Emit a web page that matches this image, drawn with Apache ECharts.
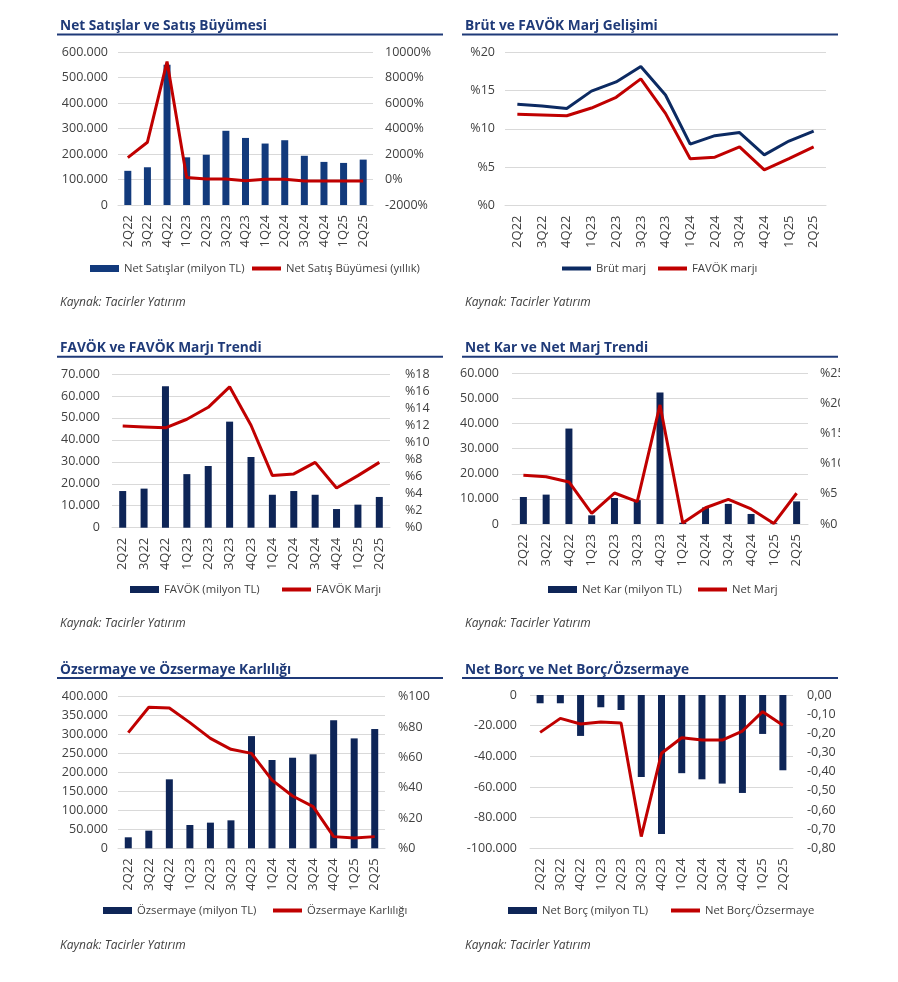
<!DOCTYPE html>
<html>
<head>
<meta charset="utf-8">
<script src="https://cdn.jsdelivr.net/npm/echarts@6/dist/echarts.min.js"></script>
<style>
  body { margin: 0; background: #fff; width: 898px; height: 982px; position: relative; overflow: hidden; }
  .p { position: absolute; }
</style>
</head>
<body>
<div id="c1" class="p" style="left:55px;top:10px;width:390px;height:310px"></div>
<div id="c2" class="p" style="left:460px;top:10px;width:380px;height:310px"></div>
<div id="c3" class="p" style="left:55px;top:335px;width:390px;height:305px"></div>
<div id="c4" class="p" style="left:460px;top:335px;width:380px;height:305px"></div>
<div id="c5" class="p" style="left:55px;top:655px;width:390px;height:305px"></div>
<div id="c6" class="p" style="left:460px;top:655px;width:380px;height:305px"></div>
<script>
// veriler
var quarters = ['2Q22', '3Q22', '4Q22', '1Q23', '2Q23', '3Q23', '4Q23', '1Q24', '2Q24', '3Q24', '4Q24', '1Q25', '2Q25']

var netSatislar = [134000, 148000, 550000, 187000, 197000, 291000, 263000, 241000, 254000, 193000, 169000, 165000, 178000]
var satisBuyumesi = [1720, 2925, 9250, 148, 40, 40, -90, 20, 20, -110, -110, -110, -110]

var brutMarj = [13.2, 12.95, 12.65, 14.9, 16.1, 18.1, 14.4, 8.0, 9.1, 9.5, 6.6, 8.4, 9.7]
var favokMarji = [11.9, 11.8, 11.7, 12.7, 14.1, 16.5, 12.0, 6.1, 6.3, 7.65, 4.65, 6.1, 7.65]

var favok = [16700, 17800, 64400, 24400, 28100, 48300, 32200, 15000, 16700, 15000, 8500, 10500, 14000]

var netKar = [10750, 11700, 38000, 3450, 10350, 9500, 52400, 500, 6600, 8000, 4000, 300, 9000]
var netMarj = [8.1, 7.85, 6.97, 1.77, 5.14, 3.7, 19.75, 0.17, 2.7, 4.1, 2.5, 0.1, 5.1]

var ozsermaye = [29000, 46600, 182000, 61500, 67700, 73800, 296000, 233000, 239000, 248000, 337600, 290000, 314700]
var ozsermayeKarliligi = [76.3, 93.0, 92.5, 82.9, 72.5, 65.3, 62.6, 45, 34.5, 27.5, 7.7, 6.8, 7.7]

var netBorc = [-5400, -5400, -26700, -8000, -9800, -53500, -90700, -51000, -55000, -57800, -63900, -25400, -49100]
var netBorcOzsermaye = [-0.195, -0.122, -0.151, -0.141, -0.146, -0.739, -0.304, -0.223, -0.235, -0.235, -0.188, -0.087, -0.158]

var NAVY = '#0e2557'
var RED = '#c00000'
var GRID = '#d9d9d9'
var TXT = '#404040'
var TITLE = '#1f3a78'
var FONT = '"Open Sans", sans-serif'

function thou(v) {
  var s = Math.abs(v).toString().replace(/\B(?=(\d{3})+(?!\d))/g, '.')
  return (v < 0 ? '-' : '') + s
}
function pctPre(v) { return '%' + v }

function valueAxis(a, right) {
  return {
    type: 'value',
    position: right ? 'right' : 'left',
    min: a.min,
    max: a.max,
    interval: a.interval,
    axisLine: { show: false },
    axisTick: { show: false },
    splitLine: { show: !right, lineStyle: { color: GRID, width: 1 } },
    axisLabel: { formatter: a.fmt, fontSize: 12.5, color: TXT, margin: a.margin || 11, fontFamily: FONT }
  }
}

function panel(id, c) {
  var chart = echarts.init(document.getElementById(id))
  var w = chart.getWidth()
  var series = []
  var legends = []
  c.items.forEach(function (it) {
    var col = it.color || (it.type === 'bar' ? NAVY : RED)
    if (it.type === 'bar') {
      series.push({ name: it.name, type: 'bar', data: it.data, barWidth: 7, itemStyle: { color: col } })
    } else {
      series.push({
        name: it.name, type: 'line', data: it.data, yAxisIndex: it.axis || 0,
        showSymbol: false, symbol: 'none', lineStyle: { width: 3, color: col },
        itemStyle: { color: col }
      })
    }
    legends.push({
      data: [it.name], left: it.legX, top: c.legY - 8,
      icon: 'rect', itemWidth: 29, itemHeight: it.type === 'bar' ? 7 : 4,
      itemStyle: { color: col },
      textStyle: { fontSize: 11.3, color: TXT, fontFamily: FONT }
    })
  })
  var yAxis = [valueAxis(c.left, false)]
  if (c.right) yAxis.push(valueAxis(c.right, true))
  var grid = c.grid
  grid.outerBoundsMode = 'none'
  grid.containLabel = false
  var option = {
    animation: false,
    textStyle: { fontFamily: FONT },
    graphic: [
      { type: 'text', style: { x: 5, y: c.titleY, text: c.title, font: 'bold 13.7px ' + FONT, fill: TITLE, verticalAlign: 'middle' } },
      { type: 'line', shape: { x1: 2, y1: c.lineY, x2: w - 2, y2: c.lineY }, style: { stroke: TITLE, lineWidth: 2 } },
      { type: 'text', style: { x: 5, y: c.srcY, text: 'Kaynak: Tacirler Yatırım', font: 'italic 12px ' + FONT, fill: TXT, verticalAlign: 'middle' } }
    ],
    legend: legends,
    grid: grid,
    xAxis: {
      type: 'category',
      data: quarters,
      axisTick: { show: false },
      axisLine: { onZero: false, lineStyle: { color: GRID } },
      axisLabel: { rotate: 90, interval: 0, fontSize: 13, color: TXT, margin: 10, fontFamily: FONT }
    },
    yAxis: yAxis,
    series: series
  }
  chart.setOption(option)
}

// Net Satışlar
panel('c1', {
  title: 'Net Satışlar ve Satış Büyümesi', titleY: 16, lineY: 24.5, srcY: 293, legY: 256,
  grid: { left: 63, top: 42, width: 255, height: 153 },
  left: { min: 0, max: 600000, interval: 100000, fmt: thou, margin: 10 },
  right: { min: -2000, max: 10000, interval: 2000, fmt: function (v) { return v + '%' }, margin: 12 },
  items: [
    { type: 'bar', name: 'Net Satışlar (milyon TL)', data: netSatislar, color: '#123a7c', legX: 30 },
    { type: 'line', name: 'Net Satış Büyümesi (yıllık)', data: satisBuyumesi, axis: 1, legX: 192 }
  ]
})

// Brüt ve FAVÖK marj
panel('c2', {
  title: 'Brüt ve FAVÖK Marj Gelişimi', titleY: 16, lineY: 24.5, srcY: 293, legY: 256,
  grid: { left: 45, top: 42, width: 321, height: 153.5 },
  left: { min: 0, max: 20, interval: 5, fmt: pctPre, margin: 10 },
  items: [
    { type: 'line', name: 'Brüt marj', data: brutMarj, color: '#0c2a62', legX: 97 },
    { type: 'line', name: 'FAVÖK marjı', data: favokMarji, legX: 193 }
  ]
})

// FAVÖK
panel('c3', {
  title: 'FAVÖK ve FAVÖK Marjı Trendi', titleY: 13, lineY: 21.7, srcY: 289, legY: 252,
  grid: { left: 57, top: 39, width: 278, height: 153.7 },
  left: { min: 0, max: 70000, interval: 10000, fmt: thou, margin: 12 },
  right: { min: 0, max: 18, interval: 2, fmt: pctPre, margin: 15 },
  items: [
    { type: 'bar', name: 'FAVÖK (milyon TL)', data: favok, legX: 70 },
    { type: 'line', name: 'FAVÖK Marjı', data: favokMarji, axis: 1, legX: 222 }
  ]
})

// Net Kar
panel('c4', {
  title: 'Net Kar ve Net Marj Trendi', titleY: 13, lineY: 21.7, srcY: 289, legY: 252,
  grid: { left: 52, top: 38.3, width: 296, height: 150.7 },
  left: { min: 0, max: 60000, interval: 10000, fmt: thou, margin: 13 },
  right: { min: 0, max: 25, interval: 5, fmt: pctPre, margin: 12 },
  items: [
    { type: 'bar', name: 'Net Kar (milyon TL)', data: netKar, legX: 83 },
    { type: 'line', name: 'Net Marj', data: netMarj, axis: 1, legX: 233 }
  ]
})

// Özsermaye
panel('c5', {
  title: 'Özsermaye ve Özsermaye Karlılığı', titleY: 15, lineY: 23, srcY: 291, legY: 253,
  grid: { left: 63, top: 41.7, width: 267, height: 151.6 },
  left: { min: 0, max: 400000, interval: 50000, fmt: thou, margin: 10 },
  right: { min: 0, max: 100, interval: 20, fmt: pctPre, margin: 13 },
  items: [
    { type: 'bar', name: 'Özsermaye (milyon TL)', data: ozsermaye, legX: 43 },
    { type: 'line', name: 'Özsermaye Karlılığı', data: ozsermayeKarliligi, axis: 1, legX: 213 }
  ]
})

// Net Borç
panel('c6', {
  title: 'Net Borç ve Net Borç/Özsermaye', titleY: 15, lineY: 23, srcY: 291, legY: 253,
  grid: { left: 70, top: 40, width: 263, height: 153.3 },
  left: { min: -100000, max: 0, interval: 20000, fmt: thou, margin: 13 },
  right: { min: -0.8, max: 0, interval: 0.1, fmt: function (v) { return v.toFixed(2).replace('.', ',') }, margin: 14 },
  items: [
    { type: 'bar', name: 'Net Borç (milyon TL)', data: netBorc, legX: 43 },
    { type: 'line', name: 'Net Borç/Özsermaye', data: netBorcOzsermaye, axis: 1, legX: 206 }
  ]
})
</script>
</body>
</html>
